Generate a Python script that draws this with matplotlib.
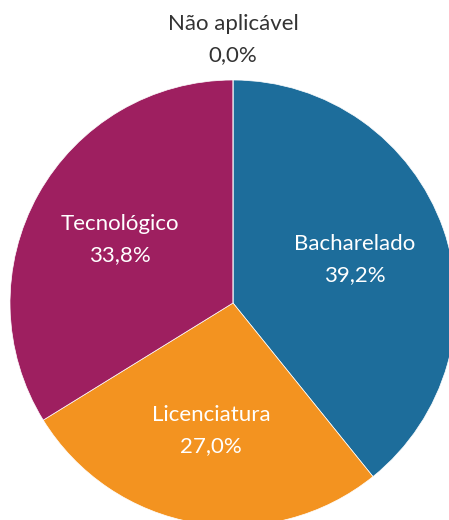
import numpy as np
import matplotlib.pyplot as plt

plt.rcParams['font.family'] = ['Lato', 'DejaVu Sans']

labels = ['Bacharelado', 'Licenciatura', 'Tecnológico', 'Não aplicável']
values = [39.2, 27.0, 33.8, 0.0]
colors = ['#1d6d9b', '#f39320', '#9e1f60', '#cccccc']

fig = plt.figure(figsize=(4.49, 5.20), dpi=100)
# pie centre ~ (233, 303) px, radius ~223 px
ax = fig.add_axes([10 / 449, -6 / 520, 446 / 449, 446 / 520])

wedges, _ = ax.pie(values, colors=colors, startangle=90, counterclock=False,
                   radius=1, wedgeprops=dict(linewidth=0.5, edgecolor='white'))
ax.set_xlim(-1, 1)
ax.set_ylim(-1, 1)
ax.set_aspect('equal')

for w, lab, val in zip(wedges, labels, values):
    mid = np.deg2rad((w.theta1 + w.theta2) / 2)
    txt = f"{lab}\n{val:.1f}%".replace('.', ',')
    if val == 0:
        ax.text(1.18 * np.cos(mid), 1.18 * np.sin(mid), txt, ha='center', va='center',
                fontsize=16, color='#333333', linespacing=1.7, clip_on=False)
    else:
        ax.text(0.58 * np.cos(mid), 0.58 * np.sin(mid), txt, ha='center', va='center',
                fontsize=16, color='white', linespacing=1.7)

fig.savefig('out.png', dpi=100)
